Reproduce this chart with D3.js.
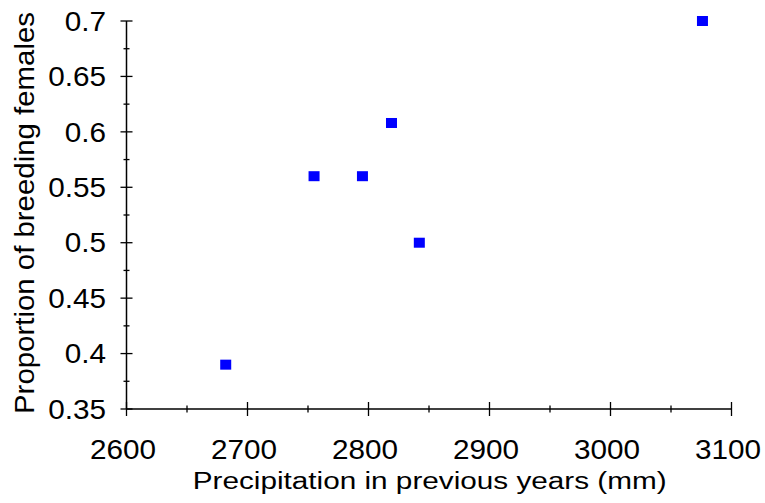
<!DOCTYPE html>
<html>
<head>
<meta charset="utf-8">
<script src="https://cdn.jsdelivr.net/npm/d3@7"></script>
<style>
  html, body { margin: 0; padding: 0; background: #fff; }
  svg { display: block; }
  text { font-family: "Liberation Sans", Arial, sans-serif; fill: #000; }
</style>
</head>
<body>
<svg id="chart" width="765" height="503"></svg>
<script>
// Precipitation (mm) and proportion of breeding females
const precipitation = [2682, 2755, 2795, 2819, 2842, 3076];
const breedingProportion = [0.39, 0.56, 0.56, 0.608, 0.50, 0.70];

const xMajorTicks = [2600, 2700, 2800, 2900, 3000, 3100];
const xMinorTicks = [2650, 2750, 2850, 2950, 3050];
const yMajorTicks = [0.35, 0.4, 0.45, 0.5, 0.55, 0.6, 0.65, 0.7];
const yMinorTicks = [0.375, 0.425, 0.475, 0.525, 0.575, 0.625, 0.675];

const xTitle = "Precipitation in previous years (mm)";
const yTitle = "Proportion of breeding females";

const svg = d3.select("#chart");
const plot = { left: 126.5, right: 731.5, top: 21, bottom: 409 };

const x = d3.scaleLinear().domain([2600, 3100]).range([plot.left, plot.right]);
const y = d3.scaleLinear().domain([0.35, 0.7]).range([plot.bottom, plot.top]);

// Axis lines
svg.append("line").attr("x1", plot.left).attr("x2", plot.left).attr("y1", plot.top).attr("y2", plot.bottom)
  .attr("stroke", "#000").attr("stroke-width", 1.5);
svg.append("line").attr("x1", plot.left).attr("x2", plot.right).attr("y1", plot.bottom).attr("y2", plot.bottom)
  .attr("stroke", "#000").attr("stroke-width", 1.5);

// Y ticks crossing the axis
const yAxis = svg.append("g");
yAxis.selectAll("line.major").data(yMajorTicks).join("line").attr("class", "major")
  .attr("x1", plot.left - 6).attr("x2", plot.left + 6)
  .attr("y1", d => y(d)).attr("y2", d => y(d))
  .attr("stroke", "#000").attr("stroke-width", 1.3);
yAxis.selectAll("line.minor").data(yMinorTicks).join("line").attr("class", "minor")
  .attr("x1", plot.left - 3).attr("x2", plot.left + 3)
  .attr("y1", d => y(d)).attr("y2", d => y(d))
  .attr("stroke", "#000").attr("stroke-width", 1.3);
yAxis.selectAll("text").data(yMajorTicks).join("text")
  .attr("transform", d => `translate(106,${y(d)}) scale(1.1,1)`)
  .attr("dy", "0.36em")
  .attr("text-anchor", "end")
  .attr("font-size", 27)
  .text(d => String(+d.toFixed(2)));

// X ticks crossing the axis
const xAxis = svg.append("g");
xAxis.selectAll("line.major").data(xMajorTicks).join("line").attr("class", "major")
  .attr("x1", d => x(d)).attr("x2", d => x(d))
  .attr("y1", plot.bottom - 7).attr("y2", plot.bottom + 7)
  .attr("stroke", "#000").attr("stroke-width", 1.3);
xAxis.selectAll("line.minor").data(xMinorTicks).join("line").attr("class", "minor")
  .attr("x1", d => x(d)).attr("x2", d => x(d))
  .attr("y1", plot.bottom - 3.5).attr("y2", plot.bottom + 3.5)
  .attr("stroke", "#000").attr("stroke-width", 1.3);
xAxis.selectAll("text").data(xMajorTicks).join("text")
  .attr("transform", d => `translate(${x(d) - 3.5},459) scale(1.1,1)`)
  .attr("text-anchor", "middle")
  .attr("font-size", 27)
  .text(d => d);

// Axis titles
svg.append("text")
  .attr("x", 429.7).attr("y", 489)
  .attr("text-anchor", "middle")
  .attr("font-size", 23.5)
  .attr("textLength", 474)
  .attr("lengthAdjust", "spacingAndGlyphs")
  .text(xTitle);
svg.append("text")
  .attr("transform", "translate(33.5,213) rotate(-90)")
  .attr("text-anchor", "middle")
  .attr("font-size", 27)
  .attr("textLength", 402)
  .attr("lengthAdjust", "spacingAndGlyphs")
  .text(yTitle);

// Data markers
svg.append("g").selectAll("rect")
  .data(precipitation.map((p, i) => ({ p, v: breedingProportion[i] })))
  .join("rect")
  .attr("x", d => x(d.p) - 5.5).attr("y", d => y(d.v) - 5)
  .attr("width", 11).attr("height", 10)
  .attr("fill", "#0000ff");
</script>
</body>
</html>
